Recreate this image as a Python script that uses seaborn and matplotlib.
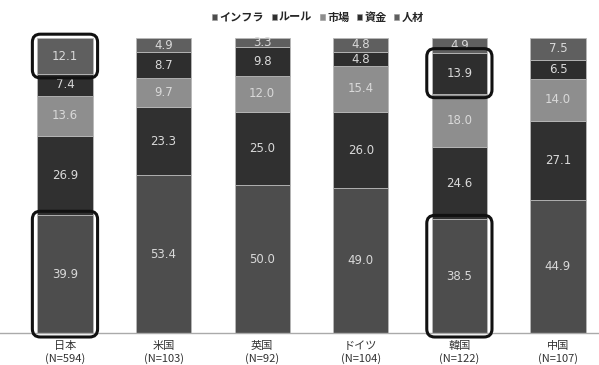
import numpy as np
import pandas as pd
import seaborn as sns
import matplotlib.pyplot as plt
from matplotlib.patches import Patch, FancyBboxPatch
from matplotlib.transforms import IdentityTransform

# データ（下から積み上げ）
countries = ["日本\n(N=594)", "米国\n(N=103)", "英国\n(N=92)", "ドイツ\n(N=104)", "韓国\n(N=122)", "中国\n(N=107)"]
series_names = ["インフラ", "ルール", "市場", "資金", "人材"]
infra = [39.9, 53.4, 50.0, 49.0, 38.5, 44.9]
rule = [26.9, 23.3, 25.0, 26.0, 24.6, 27.1]
market = [13.6, 9.7, 12.0, 15.4, 18.0, 14.0]
funds = [7.4, 8.7, 9.8, 4.8, 13.9, 6.5]
talent = [12.1, 4.9, 3.3, 4.8, 4.9, 7.5]

colors = ["#4d4d4d", "#303030", "#8e8e8e", "#2e2e2e", "#5f5f5f"]

sns.set_style("white")
plt.rcParams['font.family'] = ['Noto Sans CJK JP', 'DejaVu Sans']

fig = plt.figure(figsize=(5.99, 3.65), dpi=100)
ax = fig.add_axes([0.0, 32 / 365, 1.0, 296 / 365])

bottom = np.zeros(len(countries))
for name, vals, col in zip(series_names, [infra, rule, market, funds, talent], colors):
    vals = np.array(vals)
    sns.barplot(x=countries, y=vals, bottom=bottom, color=col, width=0.56,
                edgecolor="#b8b8b8", linewidth=0.6, saturation=1, ax=ax)
    for i, (b, v) in enumerate(zip(bottom, vals)):
        ax.text(i, b + v / 2, f"{v:.1f}", ha="center", va="center",
                fontsize=8.5, color="#d9d9d9", family="DejaVu Sans")
    bottom = bottom + vals

ax.set_xlim(-0.659, 5.416)
ax.set_ylim(0, 100.3)
ax.set_yticks([])
ax.set_ylabel("")
for s in ["top", "left", "right"]:
    ax.spines[s].set_visible(False)
ax.spines["bottom"].set_color("#aaaaaa")
ax.spines["bottom"].set_linewidth(1.0)
ax.tick_params(axis="x", length=0, labelsize=8, labelcolor="#333333", pad=6)
for lbl in ax.get_xticklabels():
    lbl.set_linespacing(1.15)

# 凡例
handles = [Patch(facecolor=c, edgecolor="#999999", linewidth=0.4) for c in colors]
fig.legend(handles, series_names, loc="center", bbox_to_anchor=(318 / 599, 1 - 17 / 365),
           ncol=5, frameon=False, prop={"size": 8, "weight": "bold"},
           handlelength=0.45, handleheight=0.45,
           handletextpad=0.2, columnspacing=0.7)

# 強調の角丸枠
fig.canvas.draw()
cum = np.cumsum(np.array([infra, rule, market, funds, talent]), axis=0)
starts = np.vstack([np.zeros(len(countries)), cum[:-1]])
for ci, si in [(0, 0), (0, 4), (4, 0), (4, 3)]:
    x0, y0 = ax.transData.transform((ci - 0.28, starts[si, ci]))
    x1, y1 = ax.transData.transform((ci + 0.28, cum[si, ci]))
    pad = 5
    box = FancyBboxPatch((x0 - pad, y0 - pad + 1), (x1 - x0) + 2 * pad, (y1 - y0) + 2 * pad - 2,
                         boxstyle="round,pad=0,rounding_size=8", facecolor="none",
                         edgecolor="#111111", linewidth=2.2, transform=IdentityTransform(),
                         zorder=10)
    fig.patches.append(box)

fig.savefig("out.png", dpi=100)
